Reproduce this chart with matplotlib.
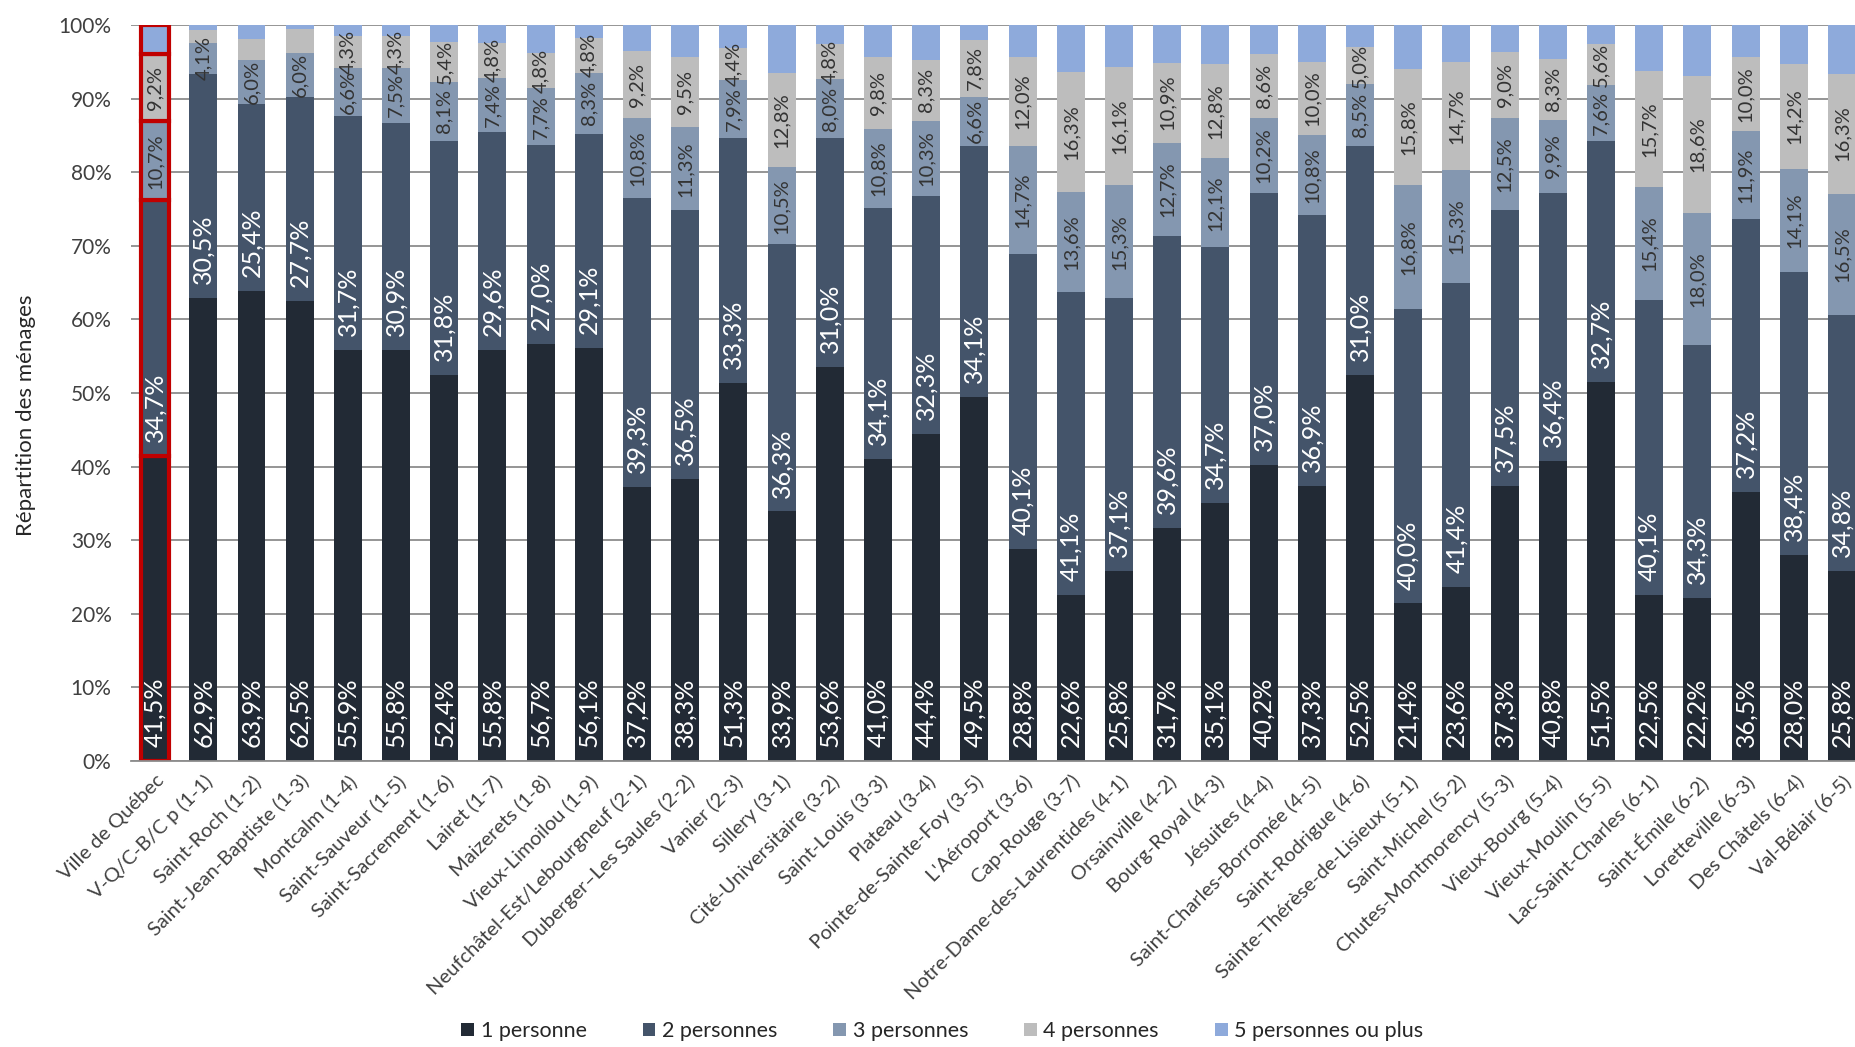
import matplotlib.pyplot as plt
from matplotlib.patches import Patch
import numpy as np

plt.rcParams['font.family'] = ['Lato', 'DejaVu Sans']

quartiers = [
    "Ville de Québec", "V-Q/C-B/C p (1-1)", "Saint-Roch (1-2)", "Saint-Jean-Baptiste (1-3)",
    "Montcalm (1-4)", "Saint-Sauveur (1-5)", "Saint-Sacrement (1-6)", "Lairet (1-7)",
    "Maizerets (1-8)", "Vieux-Limoilou (1-9)", "Neufchâtel-Est/Lebourgneuf (2-1)",
    "Duberger–Les Saules (2-2)", "Vanier (2-3)", "Sillery (3-1)", "Cité-Universitaire (3-2)",
    "Saint-Louis (3-3)", "Plateau (3-4)", "Pointe-de-Sainte-Foy (3-5)", "L'Aéroport (3-6)",
    "Cap-Rouge (3-7)", "Notre-Dame-des-Laurentides (4-1)", "Orsainville (4-2)",
    "Bourg-Royal (4-3)", "Jésuites (4-4)", "Saint-Charles-Borromée (4-5)",
    "Saint-Rodrigue (4-6)", "Sainte-Thérèse-de-Lisieux (5-1)", "Saint-Michel (5-2)",
    "Chutes-Montmorency (5-3)", "Vieux-Bourg (5-4)", "Vieux-Moulin (5-5)",
    "Lac-Saint-Charles (6-1)", "Saint-Émile (6-2)", "Loretteville (6-3)",
    "Des Châtels (6-4)", "Val-Bélair (6-5)",
]

p1 = [41.5, 62.9, 63.9, 62.5, 55.9, 55.8, 52.4, 55.8, 56.7, 56.1, 37.2, 38.3, 51.3, 33.9,
      53.6, 41.0, 44.4, 49.5, 28.8, 22.6, 25.8, 31.7, 35.1, 40.2, 37.3, 52.5, 21.4, 23.6,
      37.3, 40.8, 51.5, 22.5, 22.2, 36.5, 28.0, 25.8]
p2 = [34.7, 30.5, 25.4, 27.7, 31.7, 30.9, 31.8, 29.6, 27.0, 29.1, 39.3, 36.5, 33.3, 36.3,
      31.0, 34.1, 32.3, 34.1, 40.1, 41.1, 37.1, 39.6, 34.7, 37.0, 36.9, 31.0, 40.0, 41.4,
      37.5, 36.4, 32.7, 40.1, 34.3, 37.2, 38.4, 34.8]
p3 = [10.7, 4.1, 6.0, 6.0, 6.6, 7.5, 8.1, 7.4, 7.7, 8.3, 10.8, 11.3, 7.9, 10.5,
      8.0, 10.8, 10.3, 6.6, 14.7, 13.6, 15.3, 12.7, 12.1, 10.2, 10.8, 8.5, 16.8, 15.3,
      12.5, 9.9, 7.6, 15.4, 18.0, 11.9, 14.1, 16.5]
p4 = [9.2, 1.8, 2.8, 3.3, 4.3, 4.3, 5.4, 4.8, 4.8, 4.8, 9.2, 9.5, 4.4, 12.8,
      4.8, 9.8, 8.3, 7.8, 12.0, 16.3, 16.1, 10.9, 12.8, 8.6, 10.0, 5.0, 15.8, 14.7,
      9.0, 8.3, 5.6, 15.7, 18.6, 10.0, 14.2, 16.3]
p5 = [3.9, 0.7, 1.9, 0.5, 1.5, 1.5, 2.3, 2.4, 3.8, 1.7, 3.5, 4.4, 3.1, 6.5,
      2.6, 4.3, 4.7, 2.0, 4.4, 6.4, 5.7, 5.1, 5.3, 4.0, 5.0, 3.0, 6.0, 5.0,
      3.7, 4.6, 2.6, 6.3, 6.9, 4.4, 5.3, 6.6]

series = [p1, p2, p3, p4, p5]
noms = ["1 personne", "2 personnes", "3 personnes", "4 personnes", "5 personnes ou plus"]
couleurs = ["#222a35", "#44546a", "#8497b0", "#bdbdbd", "#8eaadb"]
# white labels sit at the base of the segment, dark ones are centred
texte = ["white", "white", "#333333", "#333333", None]
taille_lbl = [18, 18, 14.5, 14.5, 0]

fig = plt.figure(figsize=(18.55, 10.47), dpi=100)
ax = fig.add_axes([131 / 1855, 286 / 1047, 1724 / 1855, 736 / 1047])

x = np.arange(len(quartiers))
bas = np.zeros(len(quartiers))
for k, vals in enumerate(series):
    vals = np.array(vals)
    bars = ax.bar(x, vals, 0.58, bottom=bas, color=couleurs[k], zorder=2)
    # the whole-city bar is outlined in red
    bars[0].set_edgecolor("#c00000")
    bars[0].set_linewidth(3)
    if texte[k] is not None:
        for i, v in enumerate(vals):
            if k == 3 and v < 4:
                continue
            s = f"{v:.1f}".replace(".", ",") + "%"
            if k < 2:
                ax.text(x[i], bas[i] + 1.9, s, rotation=90, ha="center", va="bottom",
                        color=texte[k], fontsize=taille_lbl[k], zorder=3)
            else:
                ax.text(x[i], bas[i] + v / 2, s, rotation=90, ha="center", va="center",
                        color=texte[k], fontsize=taille_lbl[k], zorder=3)
    bas += vals

ax.set_xlim(-0.5, 35.27)
ax.set_ylim(0, 100)
ax.set_yticks(range(0, 101, 10))
ax.set_yticklabels([f"{t}%" for t in range(0, 101, 10)], fontsize=15, color="#404040")
ax.set_xticks(x)
ax.set_xticklabels(quartiers, rotation=45, ha="right", rotation_mode="anchor",
                   fontsize=14.5, color="#404040")
ax.tick_params(axis="both", length=0)
ax.tick_params(axis="y", pad=14)
ax.tick_params(axis="x", pad=8)

ax.yaxis.grid(True, color="#8c8c8c", linewidth=1.3)
ax.set_axisbelow(True)
for sp in ["top", "right", "left"]:
    ax.spines[sp].set_visible(False)
ax.spines["bottom"].set_color("#8c8c8c")
ax.spines["bottom"].set_linewidth(1.3)

ax.set_ylabel("Répartition des ménages", fontsize=16, color="#262626")
ax.yaxis.set_label_coords(-0.055, 0.47)

poignees = [Patch(facecolor=c, label=n) for c, n in zip(couleurs, noms)]
fig.legend(handles=poignees, loc="lower center", bbox_to_anchor=(0.508, -0.013), ncol=5,
           frameon=False, fontsize=15.5, handlelength=0.6, handleheight=0.6,
           handletextpad=0.3, columnspacing=2.6, labelcolor="#262626")

fig.savefig("out.png", dpi=100)
